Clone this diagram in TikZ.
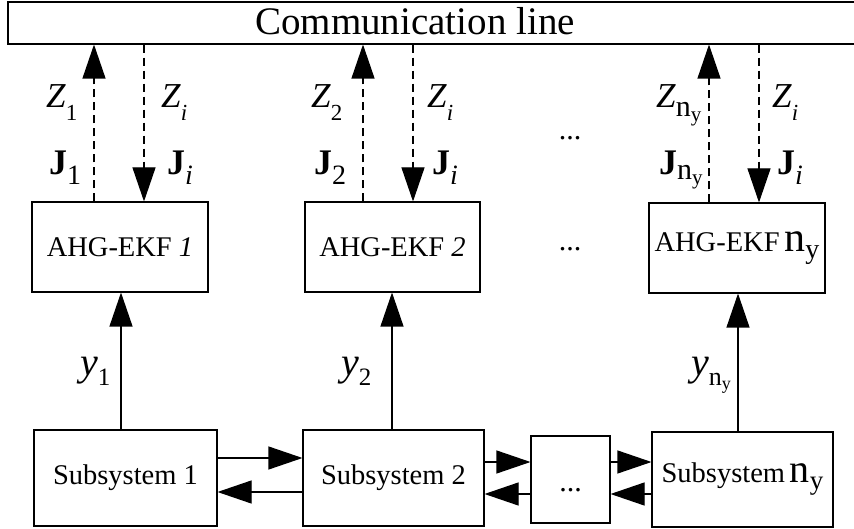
\documentclass[tikz,border=0pt]{standalone}
\usepackage{fontspec}
\setmainfont{Liberation Serif}
\usetikzlibrary{arrows.meta}
\newcommand{\fs}[1]{\fontsize{#1}{#1}\selectfont}
\newcommand{\Zlab}[1]{{\fs{35}\textit{Z}}\raisebox{-13pt}{\fs{23}#1}}
\newcommand{\Jlab}[1]{{\fs{36}\textbf{J}}\raisebox{-10pt}{\fs{28}#1}}
\newcommand{\ylab}[1]{{\fs{40}\textit{y}}\raisebox{-10pt}{\fs{25}#1}}
\newcommand{\nysub}[3]{{\fs{#1}n}\raisebox{-#3}{\fs{#2}y}}
\begin{document}
\begin{tikzpicture}[x=1pt,y=-1pt,
  box/.style={draw,line width=1.1pt,inner sep=0pt},
  arr/.style={line width=1.1pt,-{Triangle[length=34pt,width=23pt]}},
  dsh/.style={dash pattern=on 8pt off 5pt},
  lab/.style={inner sep=0pt,anchor=base west},
  boxtxt/.style={font=\fs{28.5}}]
\useasboundingbox (0,0) rectangle (854,529);
\fill[white] (0,0) rectangle (854,529);
\clip (0,0) rectangle (854,529);
% communication line
\node[box,minimum width=862pt,minimum height=42pt] (comm) at (439,23) {};
\node[inner sep=0pt,anchor=base,font=\fs{39}] (commtxt) at (415,35) {Communication line};
% filters
\node[box,boxtxt,minimum width=176pt,minimum height=90pt] (a1) at (120,247) {AHG-EKF \textit{1}};
\node[box,boxtxt,minimum width=175pt,minimum height=90pt] (a2) at (392.5,247) {AHG-EKF \textit{2}};
\node[box,boxtxt,minimum width=176pt,minimum height=90pt] (a3) at (737,248) {AHG-EKF\,\nysub{42}{28}{7pt}};
% subsystems
\node[box,boxtxt,minimum width=183pt,minimum height=96pt] (s1) at (125.5,478) {Subsystem 1};
\node[box,boxtxt,minimum width=181pt,minimum height=96pt] (s2) at (393.5,478) {Subsystem 2};
\node[box,minimum width=79pt,minimum height=87pt] (d) at (570.5,479.5) {};
\node[inner sep=0pt,anchor=base,font=\fs{30}] (dtxt) at (570.5,491) {...};
\node[box,boxtxt,minimum width=181pt,minimum height=95pt] (s3) at (742.5,479.5) {Subsystem\,\nysub{40}{27}{7pt}};
% dots between columns
\node[inner sep=0pt,anchor=base,font=\fs{30}] (dt1) at (570,140) {...};
\node[inner sep=0pt,anchor=base,font=\fs{30}] (dt2) at (570,251) {...};
% x positions
\coordinate (u1) at (94,0);  \coordinate (v1) at (144,0);
\coordinate (u2) at (363,0); \coordinate (v2) at (413,0);
\coordinate (u3) at (709,0); \coordinate (v3) at (759,0);
\coordinate (w1) at (121,0); \coordinate (w2) at (392,0); \coordinate (w3) at (738,0);
\coordinate (h1) at (0,458); \coordinate (h2) at (0,492);
\coordinate (h3) at (0,462); \coordinate (h4) at (0,494);
% dashed links
\foreach \a/\u/\v in {a1/u1/v1,a2/u2/v2,a3/u3/v3}{
  \draw[arr,dsh] (\a.north -| \u) -- (comm.south -| \u);
  \draw[arr,dsh] (comm.south -| \v) -- (\a.north -| \v);
}
% measurements
\draw[arr] (s1.north -| w1) -- (a1.south -| w1);
\draw[arr] (s2.north -| w2) -- (a2.south -| w2);
\draw[arr] (s3.north -| w3) -- (a3.south -| w3);
% coupling
\draw[arr] (s1.east |- h1) -- (s2.west |- h1);
\draw[arr] (s2.west |- h2) -- (s1.east |- h2);
\draw[arr] (s2.east |- h3) -- (d.west |- h3);
\draw[arr] (d.west |- h4) -- (s2.east |- h4);
\draw[arr] (d.east |- h3) -- (s3.west |- h3);
\draw[arr] (s3.west |- h4) -- (d.east |- h4);
% labels
\node[lab] (z1) at (46,108) {\Zlab{1}};
\node[lab] (zi1) at (161,108) {\Zlab{\textit{i}}};
\node[lab] (j1) at (49,175) {\Jlab{1}};
\node[lab] (ji1) at (167,175) {\Jlab{\textit{i}}};
\node[lab] (z2) at (311,108) {\Zlab{2}};
\node[lab] (zi2) at (427,108) {\Zlab{\textit{i}}};
\node[lab] (j2) at (314,175) {\Jlab{2}};
\node[lab] (ji2) at (432,175) {\Jlab{\textit{i}}};
\node[lab] (z3) at (656,108) {{\fs{35}\textit{Z}}\raisebox{-9pt}{\nysub{30}{21}{5pt}}};
\node[lab] (zi3) at (772,108) {\Zlab{\textit{i}}};
\node[lab] (j3) at (659,175) {{\fs{36}\textbf{J}}\raisebox{-5pt}{\nysub{30}{21}{5pt}}};
\node[lab] (ji3) at (777,175) {\Jlab{\textit{i}}};
\node[lab] (y1) at (80,375) {\ylab{1}};
\node[lab] (y2) at (341,375) {\ylab{2}};
\node[lab] (y3) at (691,375) {{\fs{40}\textit{y}}\raisebox{-10pt}{\nysub{26}{18}{4pt}}};
\end{tikzpicture}
\end{document}
